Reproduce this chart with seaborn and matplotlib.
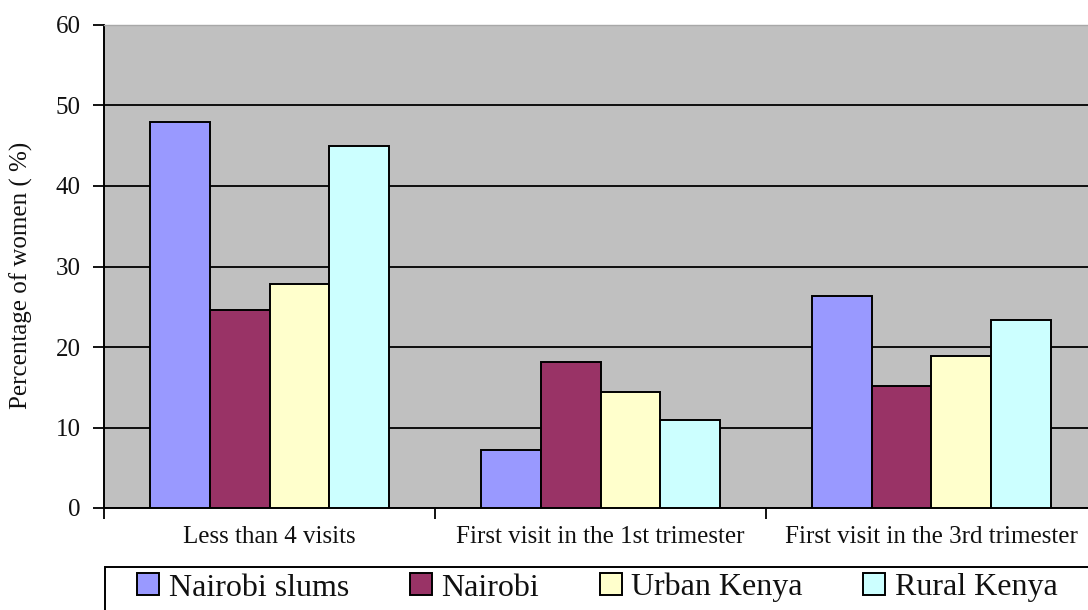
import matplotlib
matplotlib.use("Agg")
import matplotlib.pyplot as plt
from matplotlib.patches import Rectangle
import seaborn as sns
import pandas as pd

# Antenatal care indicators by residence
categories = ["Less than 4 visits", "First visit in the 1st trimester", "First visit in the 3rd trimester"]
groups = ["Nairobi slums", "Nairobi", "Urban Kenya", "Rural Kenya"]
nairobi_slums = [48.0, 7.2, 26.3]
nairobi = [24.6, 18.1, 15.2]
urban_kenya = [27.8, 14.4, 18.9]
rural_kenya = [45.0, 10.9, 23.4]
colors = ["#9999FF", "#993366", "#FFFFCC", "#CCFFFF"]
yticks = [0, 10, 20, 30, 40, 50, 60]

series = [nairobi_slums, nairobi, urban_kenya, rural_kenya]
df = pd.DataFrame(
    [(c, g, v) for g, vals in zip(groups, series) for c, v in zip(categories, vals)],
    columns=["category", "group", "value"],
)

sns.set_theme(style="white")
plt.rcParams["font.family"] = ["Liberation Serif", "DejaVu Serif"]

W, H = 1088, 610
fig = plt.figure(figsize=(W / 100, H / 100), dpi=100)
ax = fig.add_axes([104 / W, 1 - 508 / H, (1097 - 104) / W, (508 - 25) / H])
ax.set_facecolor("#C0C0C0")

sns.barplot(
    data=df, x="category", y="value", hue="group",
    order=categories, hue_order=groups, palette=colors,
    width=0.72, edgecolor="black", linewidth=1.4, saturation=1,
    ax=ax, zorder=3,
)

ax.set_xlim(-0.5, 2.5)
ax.set_ylim(0, 60)
ax.set_yticks(yticks)
ax.set_yticklabels([str(t) for t in yticks], fontsize=18, color="#111111")
ax.yaxis.grid(True, color="black", linewidth=1.3, zorder=1)
ax.set_axisbelow(True)

ax.tick_params(axis="y", direction="out", length=8, width=1.3, color="black", pad=9, left=True)
ax.tick_params(axis="x", which="major", length=0, pad=13, labelsize=18, labelcolor="#111111")
ax.set_xticks([-0.5, 0.5, 1.5, 2.5], minor=True)
ax.tick_params(axis="x", which="minor", direction="out", length=8, width=1.3, color="black", bottom=True)

for side in ["left", "bottom"]:
    ax.spines[side].set_color("black")
    ax.spines[side].set_linewidth(1.4)
ax.spines["top"].set_color("#A8A8A8")
ax.spines["top"].set_linewidth(1.0)
ax.spines["right"].set_visible(False)

ax.set_xlabel("")
ax.set_ylabel("Percentage of women ( %)", fontsize=18, color="#111111")
ax.yaxis.set_label_coords(-0.0715, 0.482)

# Legend box below the axes, drawn underneath the axes artists
fig.patches.append(Rectangle((105 / W, -0.05), 1.0, (1 - 567 / H) + 0.05,
                             transform=fig.transFigure, facecolor="white",
                             edgecolor="black", linewidth=1.4, zorder=-1))
sns.move_legend(
    ax, loc="upper left", bbox_to_anchor=(137 / W, 1 - 573 / H),
    bbox_transform=fig.transFigure, ncol=4, frameon=False, title=None,
    fontsize=23, handlelength=0.69, handleheight=0.69, handletextpad=0.3,
    columnspacing=1.9, borderpad=0, borderaxespad=0,
)
leg = ax.get_legend()
for h in leg.legend_handles:
    h.set_edgecolor("black")
    h.set_linewidth(1.4)
for t in leg.get_texts():
    t.set_color("#111111")

fig.savefig("out.png", dpi=100)
